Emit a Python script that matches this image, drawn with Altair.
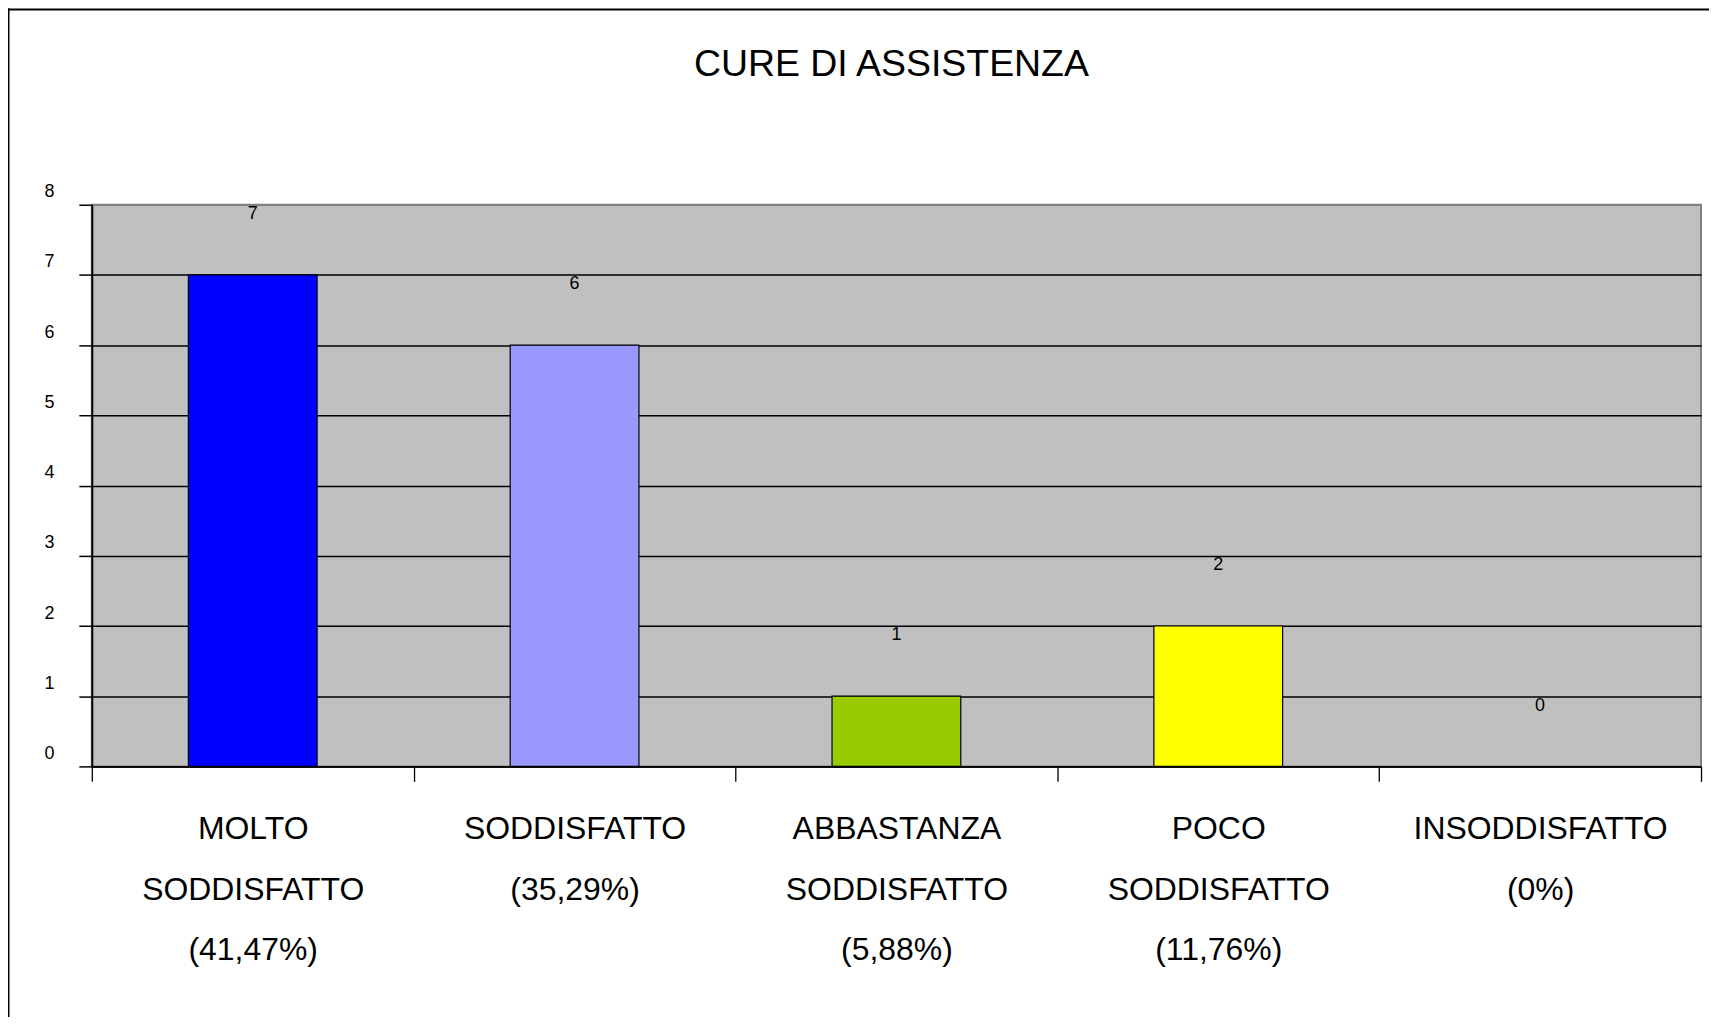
import altair as alt
import pandas as pd

# ---- data ----
label_lines = [
    "MOLTO|SODDISFATTO|(41,47%)",
    "SODDISFATTO|(35,29%)",
    "ABBASTANZA|SODDISFATTO|(5,88%)",
    "POCO|SODDISFATTO|(11,76%)",
    "INSODDISFATTO|(0%)",
]
values = [7, 6, 1, 2, 0]
bar_colors = ["#0000FF", "#9999FF", "#99CC00", "#FFFF00", "#C0C0C0"]
y_ticks = [0, 1, 2, 3, 4, 5, 6, 7, 8]
title_text = "CURE DI ASSISTENZA"

FONT = "Liberation Sans, Arial, Helvetica, sans-serif"

df = pd.DataFrame({"label": label_lines, "value": values})

x_enc = alt.X(
    "label:N",
    sort=None,
    scale=alt.Scale(paddingInner=0, paddingOuter=0),
    axis=alt.Axis(
        title=None,
        labelAngle=0,
        labelExpr="split(datum.label, '|')",
        labelFont=FONT,
        labelFontSize=32,
        labelLineHeight=61,
        labelBaseline="top",
        labelColor="black",
        labelPadding=32,
        labelLimit=600,
        labelOverlap=False,
        tickBand="extent",
        tickSize=15,
        tickColor="black",
        tickWidth=1.3,
        domainColor="black",
        domainWidth=1.5,
        grid=False,
    ),
)

y_enc = alt.Y(
    "value:Q",
    scale=alt.Scale(domain=[0, 8], nice=False),
    axis=alt.Axis(
        title=None,
        values=y_ticks,
        format="d",
        labelFont=FONT,
        labelFontSize=18,
        labelColor="black",
        labelPadding=25,
        labelBaseline="alphabetic",
        labelOffset=-8,
        tickSize=13,
        tickColor="black",
        tickWidth=1.5,
        domainColor="black",
        domainWidth=2,
        grid=True,
        gridColor=alt.condition("datum.value == 8", alt.value("#808080"), alt.value("black")),
        gridWidth=1.5,
    ),
)

base = alt.Chart(df)

bars = base.mark_bar(
    width=alt.RelativeBandSize(0.4), stroke="black", strokeWidth=1.2
).encode(
    x=x_enc,
    y=y_enc,
    color=alt.Color(
        "label:N",
        sort=None,
        scale=alt.Scale(domain=label_lines, range=bar_colors),
        legend=None,
    ),
    strokeOpacity=alt.condition("datum.value == 0", alt.value(0), alt.value(1)),
)

texts = base.mark_text(
    dy=-56, baseline="alphabetic", fontSize=18, font=FONT, color="black"
).encode(x=alt.X("label:N", sort=None), y="value:Q", text="value:Q")

frame_df = pd.DataFrame({"k": [0]})
frame_left = alt.Chart(frame_df).mark_rule(color="black", strokeWidth=2).encode(
    x=alt.value(-83.5), y=alt.value(-197), y2=alt.value(1000)
)
frame_top = alt.Chart(frame_df).mark_rule(color="black", strokeWidth=2).encode(
    y=alt.value(-195.7), x=alt.value(-84), x2=alt.value(1700)
)

chart = (
    alt.layer(bars, texts, frame_left, frame_top)
    .properties(
        width=1613,
        height=563,
        autosize=alt.AutoSizeParams(type="none"),
        padding={"left": 84, "top": 196, "right": 8, "bottom": 250},
        title=alt.TitleParams(
            title_text,
            font=FONT,
            fontSize=37.5,
            fontWeight="normal",
            color="black",
            anchor="middle",
            baseline="alphabetic",
            offset=-106,
            dx=-5,
        ),
    )
    .configure(
        background="white",
        view=alt.ViewConfig(fill="#C0C0C0", stroke="#808080", strokeWidth=2),
    )
)

chart.save("out.html", embed_options={"renderer": "svg", "actions": False})
